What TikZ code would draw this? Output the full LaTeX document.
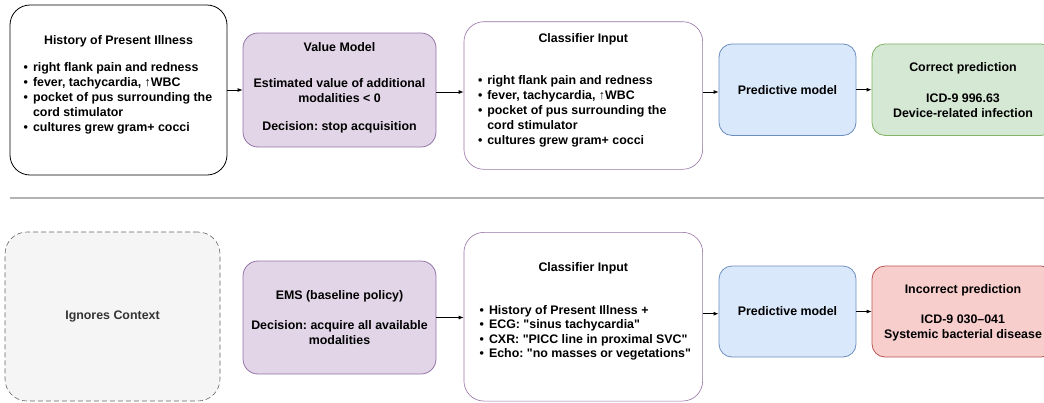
\documentclass[tikz,border=0pt]{standalone}
\usepackage{fontspec}
\setmainfont{Liberation Sans}
\usetikzlibrary{arrows.meta}
\definecolor{purpfill}{HTML}{E1D5E7}
\definecolor{purpline}{HTML}{9673A6}
\definecolor{bluefill}{HTML}{DAE8FC}
\definecolor{blueline}{HTML}{6C8EBF}
\definecolor{greenfill}{HTML}{D5E8D4}
\definecolor{greenline}{HTML}{82B366}
\definecolor{redfill}{HTML}{F8CECC}
\definecolor{redline}{HTML}{B85450}
\definecolor{grayfill}{HTML}{F5F5F5}
\definecolor{grayline}{HTML}{666666}
\definecolor{graytext}{HTML}{333333}
\definecolor{sepcol}{HTML}{B3B3B3}
\frenchspacing
\tikzset{
  x=1pt, y=1pt,
  boxbase/.style={rectangle, inner sep=0pt, line width=0.8pt,
    font=\bfseries\fontsize{12.4}{15}\selectfont},
  whitebox/.style={boxbase, draw=black, fill=white, rounded corners=20pt},
  inbox/.style={boxbase, draw=purpline, line width=0.6pt, fill=white, rounded corners=20pt},
  purpbox/.style={boxbase, draw=purpline, fill=purpfill, rounded corners=15pt},
  bluebox/.style={boxbase, draw=blueline, fill=bluefill, rounded corners=13pt},
  greenbox/.style={boxbase, draw=greenline, fill=greenfill, rounded corners=13pt},
  redbox/.style={boxbase, draw=redline, fill=redfill, rounded corners=13pt},
  graybox/.style={boxbase, draw=grayline, line width=0.6pt, dash pattern=on 5pt off 3pt,
    fill=grayfill, rounded corners=22pt, text=graytext},
  txt/.style={inner sep=0pt, font=\bfseries\fontsize{12.4}{15}\selectfont},
  txtb/.style={inner sep=0pt, font=\bfseries\fontsize{12.4}{14.3}\selectfont},
  arr/.style={line width=0.8pt, -{Latex[length=5pt,width=4pt]}},
  sepline/.style={draw=sepcol, line width=1.2pt},
}
\newcommand{\bul}{\textbullet}
\newcommand{\qq}{\textquotedbl}
\begin{document}
\begin{tikzpicture}
\useasboundingbox (0,0) rectangle (1044,-402);
\clip (0,0) rectangle (1044,-402);

% ---------- top row ----------
\node[whitebox, minimum width=217pt, minimum height=170pt] (hpi) at (118.5,-90) {};
\node[txt, anchor=base] (hpiT) at (118.5,-44.5) {History of Present Illness};
\node[txt, anchor=base west] (hpiL) at (23.5,-71.5) {\begin{tabular}[t]{@{}l@{\hspace{5pt}}l@{}}
\bul & right flank pain and redness\\
\bul & fever, tachycardia, ↑WBC\\
\bul & pocket of pus surrounding the\\
 & cord stimulator\\
\bul & cultures grew gram+ cocci
\end{tabular}};

\node[purpbox, minimum width=193pt, minimum height=114pt] (vm) at (339.5,-90) {};
\node[txt, anchor=base] (vmT) at (339.5,-51.5) {\begin{tabular}[t]{@{}c@{}}
Value Model\\[21.3pt]
Estimated value of additional\\
modalities {<} 0\\[13pt]
Decision: stop acquisition
\end{tabular}};

\node[inbox, minimum width=238.7pt, minimum height=147.6pt] (ci) at (583.3,-95.5) {};
\node[txt, anchor=base] (ciT) at (583.3,-42.2) {Classifier Input};
\node[txt, anchor=base west] (ciL) at (477.8,-84.5) {\begin{tabular}[t]{@{}l@{\hspace{5pt}}l@{}}
\bul & right flank pain and redness\\
\bul & fever, tachycardia, ↑WBC\\
\bul & pocket of pus surrounding the\\
 & cord stimulator\\
\bul & cultures grew gram+ cocci
\end{tabular}};

\node[bluebox, minimum width=137pt, minimum height=91.5pt] (pm) at (787.5,-89.7) {Predictive model};

\node[greenbox, minimum width=182pt, minimum height=91.5pt] (cp) at (963,-89.7) {};
\node[txt, anchor=base] (cpT) at (963,-71.2) {\begin{tabular}[t]{@{}c@{}}
Correct prediction\\[16.3pt]
ICD-9 996.63\\[-0.5pt]
Device-related infection
\end{tabular}};

\draw[arr] (hpi.east) -- (hpi.east -| vm.west);
\draw[arr] ([yshift=-2pt]vm.east) -- ([yshift=-2pt]vm.east -| ci.west);
\draw[arr] ([yshift=-2.3pt]pm.west -| ci.east) -- ([yshift=-2.3pt]pm.west);
\draw[arr] (pm.east) -- (pm.east -| cp.west);

% ---------- separator ----------
\coordinate (sepL) at (10,-198);
\coordinate (sepR) at (1044,-198);
\draw[sepline] (sepL) -- (sepR);

% ---------- bottom row ----------
\node[graybox, minimum width=215pt, minimum height=169pt] (ign) at (112.5,-316.5) {Ignores Context};

\node[purpbox, minimum width=193pt, minimum height=113pt] (ems) at (339.5,-317.5) {};
\node[txt, anchor=base] (emsT) at (339.5,-299.5) {\begin{tabular}[t]{@{}c@{}}
EMS (baseline policy)\\[15pt]
Decision: acquire all available\\[-0.5pt]
modalities
\end{tabular}};

\node[inbox, minimum width=238.7pt, minimum height=168.7pt] (ci2) at (583.3,-316.7) {};
\node[txt, anchor=base] (ci2T) at (583.3,-271.2) {Classifier Input};
\node[txtb, anchor=base west] (ci2L) at (479.5,-314.5) {\begin{tabular}[t]{@{}l@{\hspace{5pt}}l@{}}
\bul & History of Present Illness +\\
\bul & ECG: \qq sinus tachycardia\qq\\
\bul & CXR: \qq PICC line in proximal SVC\qq\\
\bul & Echo: \qq no masses or vegetations\qq
\end{tabular}};

\node[bluebox, minimum width=137pt, minimum height=91pt] (pm2) at (787.5,-311.5) {Predictive model};

\node[redbox, minimum width=182pt, minimum height=91pt] (inc) at (963,-311.5) {};
\node[txt, anchor=base] (incT) at (963,-293.5) {\begin{tabular}[t]{@{}c@{}}
Incorrect prediction\\[15.3pt]
ICD-9 030–041\\[-0.7pt]
Systemic bacterial disease
\end{tabular}};

\draw[arr] (ems.east) -- (ems.east -| ci2.west);
\draw[arr] ([yshift=-2.2pt]pm2.west -| ci2.east) -- ([yshift=-2.2pt]pm2.west);
\draw[arr] (pm2.east) -- (pm2.east -| inc.west);
\end{tikzpicture}
\end{document}
